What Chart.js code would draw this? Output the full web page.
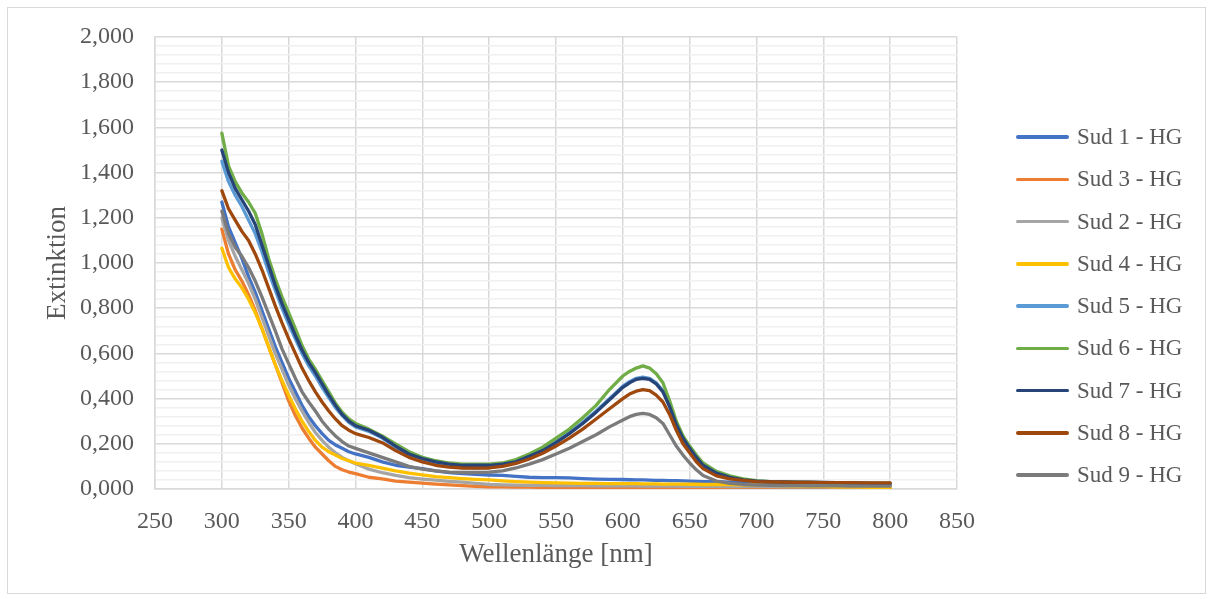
<!DOCTYPE html>
<html>
<head>
<meta charset="utf-8">
<script src="https://cdn.jsdelivr.net/npm/chart.js@4/dist/chart.umd.min.js"></script>
<style>
html,body{margin:0;padding:0;background:#fff;}
#wrap{position:relative;width:1212px;height:599px;overflow:hidden;}
#frame{position:absolute;left:7px;top:7px;width:1199px;height:587px;border:1px solid #d9d9d9;box-sizing:border-box;}
canvas{position:absolute;left:0;top:0;}
#legend{position:absolute;left:1016px;top:0;font-family:"Liberation Serif","Times New Roman",serif;font-size:23px;color:#595959;}
.item{position:absolute;left:0;display:flex;align-items:center;white-space:nowrap;height:30px;}
.swatch{width:53px;height:3.5px;border-radius:2px;margin-right:8px;}
</style>
</head>
<body>
<div id="wrap">
  <div id="frame"></div>
  <canvas id="c" width="1212" height="599"></canvas>
  <div id="legend"></div>
</div>
<script>
// ---- data ----
const wavelengths = [300,305,310,315,320,325,330,335,340,345,350,355,360,365,370,375,380,385,390,395,400,
  410,420,430,440,450,460,470,480,490,500,510,520,530,540,550,560,570,580,590,600,
  605,610,615,620,625,630,635,640,645,650,655,660,
  670,680,690,700,710,720,730,740,750,760,770,780,790,800];

const seriesNames = ["Sud 1 - HG","Sud 3 - HG","Sud 2 - HG","Sud 4 - HG","Sud 5 - HG","Sud 6 - HG","Sud 7 - HG","Sud 8 - HG","Sud 9 - HG"];

const sud1 = [1.27,1.16,1.09,1.02,0.94,0.87,0.79,0.71,0.63,0.56,0.49,0.43,0.37,0.32,0.28,0.245,0.215,0.195,0.18,0.165,0.155,
  0.14,0.12,0.105,0.097,0.09,0.08,0.072,0.068,0.065,0.062,0.06,0.056,0.052,0.05,0.05,0.049,0.046,0.044,0.043,0.042,
  0.041,0.04,0.04,0.039,0.038,0.038,0.037,0.037,0.036,0.035,0.034,0.033,
  0.032,0.03,0.029,0.028,0.027,0.026,0.025,0.024,0.023,0.022,0.022,0.021,0.02,0.02];

const sud3 = [1.15,1.04,0.97,0.92,0.86,0.79,0.71,0.63,0.55,0.47,0.39,0.325,0.27,0.225,0.185,0.155,0.125,0.10,0.085,0.075,0.068,
  0.052,0.045,0.035,0.03,0.026,0.022,0.018,0.015,0.012,0.01,0.009,0.008,0.008,0.007,0.007,0.006,0.005,0.005,0.005,0.005,
  0.005,0.005,0.005,0.005,0.004,0.004,0.004,0.004,0.004,0.004,0.004,0.004,
  0.004,0.004,0.003,0.003,0.003,0.003,0.003,0.003,0.003,0.003,0.003,0.003,0.003,0.003];

const sud2 = [1.20,1.10,1.03,0.97,0.91,0.84,0.76,0.68,0.60,0.53,0.46,0.40,0.345,0.295,0.25,0.215,0.185,0.16,0.14,0.125,0.112,
  0.088,0.072,0.06,0.05,0.044,0.039,0.034,0.03,0.025,0.02,0.018,0.017,0.016,0.016,0.015,0.015,0.015,0.014,0.014,0.014,
  0.014,0.014,0.013,0.013,0.013,0.013,0.013,0.013,0.012,0.012,0.012,0.012,
  0.012,0.011,0.011,0.011,0.011,0.01,0.01,0.01,0.01,0.01,0.01,0.01,0.01,0.01];

const sud4 = [1.065,0.98,0.93,0.89,0.84,0.78,0.71,0.63,0.55,0.48,0.415,0.355,0.30,0.255,0.215,0.185,0.165,0.15,0.135,0.125,0.115,
  0.105,0.092,0.08,0.07,0.062,0.055,0.05,0.046,0.043,0.04,0.036,0.033,0.03,0.028,0.027,0.026,0.025,0.025,0.024,0.024,
  0.024,0.024,0.023,0.023,0.023,0.022,0.022,0.022,0.022,0.021,0.021,0.02,
  0.02,0.019,0.018,0.017,0.016,0.015,0.014,0.013,0.012,0.01,0.009,0.008,0.006,0.005];

const sud5 = [1.45,1.36,1.30,1.25,1.19,1.13,1.05,0.96,0.88,0.80,0.73,0.665,0.60,0.545,0.50,0.45,0.405,0.36,0.325,0.295,0.275,
  0.255,0.225,0.185,0.15,0.125,0.11,0.10,0.095,0.093,0.095,0.105,0.12,0.145,0.175,0.21,0.25,0.295,0.345,0.40,0.455,
  0.475,0.49,0.495,0.49,0.47,0.435,0.365,0.285,0.225,0.18,0.14,0.105,
  0.067,0.05,0.039,0.033,0.03,0.028,0.027,0.026,0.025,0.024,0.023,0.023,0.022,0.022];

const sud6 = [1.575,1.43,1.36,1.31,1.27,1.22,1.13,1.02,0.93,0.85,0.78,0.71,0.635,0.575,0.53,0.48,0.43,0.38,0.34,0.31,0.29,
  0.265,0.235,0.20,0.165,0.14,0.125,0.115,0.11,0.11,0.11,0.115,0.13,0.155,0.185,0.225,0.265,0.315,0.37,0.44,0.50,
  0.52,0.535,0.545,0.535,0.51,0.47,0.39,0.30,0.235,0.19,0.15,0.115,
  0.078,0.058,0.045,0.037,0.033,0.031,0.03,0.029,0.028,0.027,0.027,0.026,0.025,0.025];

const sud7 = [1.50,1.40,1.33,1.28,1.23,1.17,1.08,0.99,0.90,0.82,0.75,0.68,0.615,0.56,0.515,0.465,0.415,0.37,0.33,0.30,0.28,
  0.26,0.23,0.19,0.155,0.135,0.12,0.11,0.105,0.105,0.105,0.11,0.12,0.145,0.17,0.205,0.245,0.29,0.34,0.395,0.45,
  0.47,0.485,0.49,0.485,0.465,0.43,0.365,0.285,0.225,0.18,0.14,0.105,
  0.07,0.052,0.04,0.035,0.032,0.031,0.03,0.03,0.029,0.028,0.027,0.026,0.025,0.025];

const sud8 = [1.32,1.24,1.19,1.14,1.10,1.04,0.97,0.89,0.81,0.735,0.665,0.60,0.535,0.48,0.43,0.385,0.345,0.31,0.28,0.26,0.245,
  0.228,0.205,0.17,0.14,0.12,0.105,0.097,0.093,0.092,0.093,0.10,0.113,0.133,0.158,0.19,0.225,0.265,0.31,0.355,0.40,
  0.42,0.433,0.44,0.435,0.415,0.385,0.33,0.26,0.20,0.16,0.12,0.09,
  0.058,0.045,0.038,0.033,0.031,0.03,0.029,0.029,0.028,0.028,0.028,0.027,0.027,0.027];

const sud9 = [1.23,1.13,1.07,1.03,0.98,0.92,0.85,0.775,0.70,0.62,0.555,0.49,0.43,0.385,0.345,0.30,0.265,0.235,0.21,0.19,0.18,
  0.16,0.14,0.12,0.10,0.088,0.08,0.075,0.073,0.073,0.075,0.08,0.093,0.11,0.13,0.155,0.18,0.21,0.24,0.275,0.305,
  0.32,0.33,0.335,0.33,0.315,0.29,0.24,0.19,0.15,0.115,0.085,0.06,
  0.035,0.025,0.02,0.017,0.016,0.015,0.015,0.014,0.014,0.014,0.013,0.013,0.013,0.013];

const xTicks = [250,300,350,400,450,500,550,600,650,700,750,800,850];

// ---- styling ----
const seriesValues = [sud1, sud3, sud2, sud4, sud5, sud6, sud7, sud8, sud9];
const seriesColors = ["#4472C4","#ED7D31","#A5A5A5","#FFC000","#5B9BD5","#70AD47","#264478","#9E480E","#7B7B7B"];
const FONT = "'Liberation Serif', 'Times New Roman', serif";
const TXT = "#595959";

const datasets = seriesValues.map((vals, i) => ({
  label: seriesNames[i],
  data: wavelengths.map((w, j) => ({x: w, y: vals[j]})),
  borderColor: seriesColors[i],
  backgroundColor: seriesColors[i],
  borderWidth: 3.3,
  pointRadius: 0,
  tension: 0,
  order: seriesValues.length - 1 - i
}));

new Chart(document.getElementById('c'), {
  type: 'line',
  data: { datasets },
  options: {
    responsive: false,
    animation: false,
    layout: { padding: { left: 0, top: 37, right: 255, bottom: 0 } },
    plugins: { legend: { display: false }, tooltip: { enabled: false } },
    elements: { line: { borderCapStyle: 'round', borderJoinStyle: 'round' } },
    scales: {
      x: {
        type: 'linear', min: 250, max: 850,
        afterBuildTicks: s => { s.ticks = xTicks.map(v => ({value: v})); },
        ticks: { padding: 18, color: TXT, font: { family: FONT, size: 24 }, callback: v => String(v) },
        grid: { color: '#d9d9d9', lineWidth: 1.5, drawTicks: false },
        border: { color: '#d9d9d9', width: 1.5 },
        title: { display: true, text: 'Wellenlänge [nm]', color: TXT, font: { family: FONT, size: 27 }, padding: { top: 0, bottom: 28 } },
        afterFit: s => { s.height = 110; }
      },
      y: {
        type: 'linear', min: 0, max: 2,
        ticks: {
          stepSize: 0.04, autoSkip: false, padding: 21, color: TXT,
          font: { family: FONT, size: 24 },
          callback: v => (Math.round(v / 0.04) % 5 === 0) ? v.toFixed(3).replace('.', ',') : ''
        },
        grid: {
          drawTicks: false,
          lineWidth: 1.5,
          color: c => (c.tick && Math.round(c.tick.value / 0.04) % 5 === 0) ? '#d9d9d9' : '#f0f0f0'
        },
        border: { color: '#d9d9d9', width: 1.5 },
        title: { display: true, text: 'Extinktion', color: TXT, font: { family: FONT, size: 27 }, padding: { top: 42, bottom: 0 } },
        afterFit: s => { s.width = 155; }
      }
    }
  }
});

// HTML legend
const leg = document.getElementById('legend');
seriesNames.forEach((name, i) => {
  const it = document.createElement('div');
  it.className = 'item';
  it.style.top = (137 + i * 42.25 - 15) + 'px';
  const sw = document.createElement('span');
  sw.className = 'swatch';
  sw.style.background = seriesColors[i];
  const tx = document.createElement('span');
  tx.textContent = name;
  it.appendChild(sw); it.appendChild(tx);
  leg.appendChild(it);
});
</script>
</body>
</html>
